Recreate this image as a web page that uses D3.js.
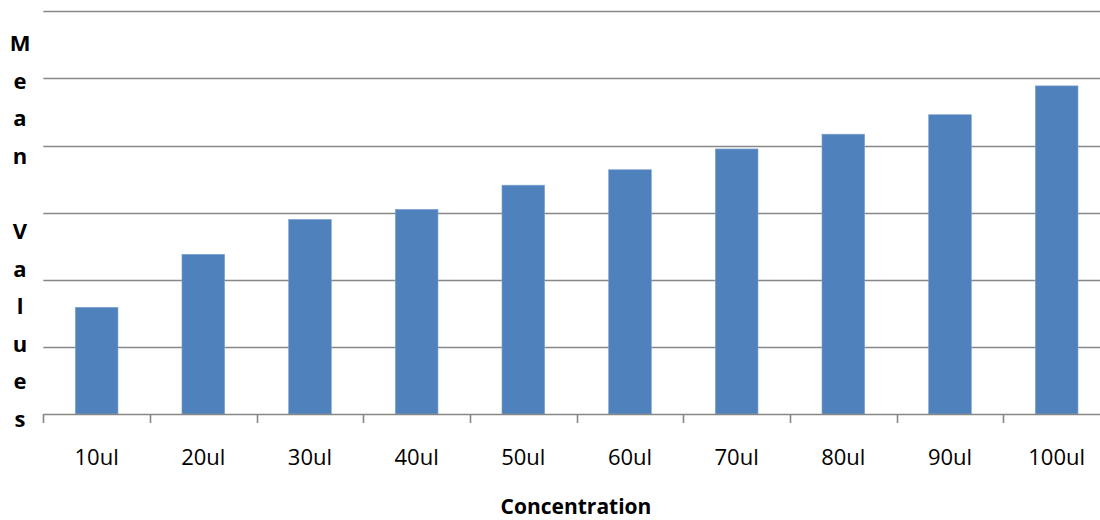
<!DOCTYPE html>
<html>
<head>
<meta charset="utf-8">
<script src="https://cdn.jsdelivr.net/npm/d3@7"></script>
<style>
  html, body { margin: 0; padding: 0; background: #fff; }
  svg { display: block; }
</style>
</head>
<body>
<svg id="chart" width="1100" height="520"></svg>
<script>
const categories = ["10ul", "20ul", "30ul", "40ul", "50ul", "60ul", "70ul", "80ul", "90ul", "100ul"];
const meanValues = [1.59, 2.38, 2.90, 3.05, 3.41, 3.64, 3.95, 4.17, 4.46, 4.89];
const gridTicks = [0, 1, 2, 3, 4, 5, 6];
const yTitle = "Mean Values";
const xTitle = "Concentration";

const svg = d3.select("#chart");
const W = 1100, H = 520;
const plot = { left: 43.3, right: 1110, top: 11.4, bottom: 414 };

const x = d3.scaleBand().domain(categories).range([plot.left, plot.right]).padding(0);
const y = d3.scaleLinear().domain([0, 6]).range([plot.bottom, plot.top]);

const gridColor = "#878787";

// gridlines
svg.append("g").selectAll("line").data(gridTicks.filter(d => d > 0)).join("line")
  .attr("x1", plot.left).attr("x2", W)
  .attr("y1", d => Math.round(y(d)) + 0.5).attr("y2", d => Math.round(y(d)) + 0.5)
  .attr("stroke", gridColor).attr("stroke-width", 1.6);

// bars
const barW = x.bandwidth() * 0.4;
svg.append("g").selectAll("rect").data(categories).join("rect")
  .attr("x", (d) => x(d) + x.bandwidth() / 2 - barW / 2)
  .attr("width", barW)
  .attr("y", (d, i) => y(meanValues[i]))
  .attr("height", (d, i) => plot.bottom - y(meanValues[i]))
  .attr("fill", "#4f81bd")
  .attr("stroke", "#7fa3d1").attr("stroke-width", 0.6);

// x axis
const xAxis = d3.axisBottom(x).tickSize(0).tickPadding(0);
const gx = svg.append("g").attr("transform", `translate(0,${plot.bottom})`).call(xAxis);
gx.select(".domain").remove();
gx.selectAll("text")
  .attr("y", 0).attr("dy", null)
  .attr("transform", "translate(0,51)")
  .style("font-family", "'Open Sans', sans-serif")
  .style("font-size", "22px")
  .attr("fill", "#000");

svg.append("line")
  .attr("x1", plot.left).attr("x2", W)
  .attr("y1", plot.bottom + 0.5).attr("y2", plot.bottom + 0.5)
  .attr("stroke", gridColor).attr("stroke-width", 1.6);

// boundary tick marks
const bounds = categories.map(c => x(c));
svg.append("g").selectAll("line").data(bounds).join("line")
  .attr("x1", d => Math.round(d) + 0.5).attr("x2", d => Math.round(d) + 0.5)
  .attr("y1", plot.bottom).attr("y2", plot.bottom + 9)
  .attr("stroke", gridColor).attr("stroke-width", 1.6);

// y title: stacked letters
const letters = yTitle.split("");
svg.append("g").selectAll("text").data(letters).join("text")
  .attr("x", 20)
  .attr("y", (d, i) => 51 + i * 37.6)
  .attr("text-anchor", "middle")
  .style("font-family", "'Open Sans', sans-serif")
  .style("font-weight", "bold")
  .style("font-size", "22px")
  .text(d => d);

// x title
svg.append("text")
  .attr("x", 576).attr("y", 514)
  .attr("text-anchor", "middle")
  .style("font-family", "'Open Sans', sans-serif")
  .style("font-weight", "bold")
  .style("font-size", "21px")
  .text(xTitle);
</script>
</body>
</html>
